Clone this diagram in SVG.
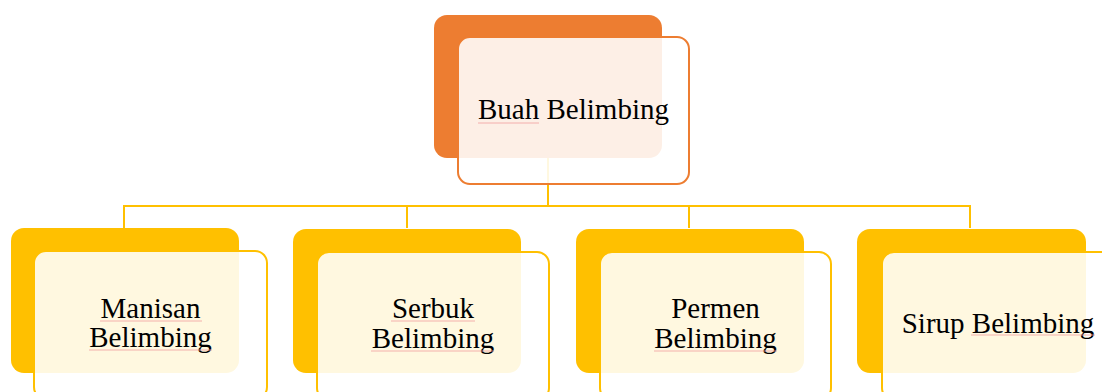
<svg xmlns="http://www.w3.org/2000/svg" width="1102" height="392" viewBox="0 0 1102 392">
<style>
.bg-o{fill:#ED7D31}
.bg-y{fill:#FFC000}
.fr-o{fill:#FFFFFF;fill-opacity:0.88;stroke:#ED7D31;stroke-width:2}
.fr-y{fill:#FFFFFF;fill-opacity:0.88;stroke:#FFC000;stroke-width:2}
.conn{fill:none;stroke:#FFC000;stroke-width:2}
.lbl{font-family:"Liberation Serif","Times New Roman",serif;font-size:29px;fill:#000;text-anchor:middle}
.sp{stroke:#F2A0A0;stroke-width:1;opacity:0.8}
</style>
<g id="connectors">
<path class="conn" d="M548 158 V206"/>
<path class="conn" d="M124 228 V206 H970 V228"/>
<path class="conn" d="M407 206 V228"/>
<path class="conn" d="M689 206 V228"/>
</g>
<g id="node-buah">
<rect class="bg-o" x="434" y="15" width="228" height="143" rx="13"/>
<rect class="fr-o" x="458" y="37" width="231" height="147" rx="12"/>
<text class="lbl" x="573.5" y="119">Buah Belimbing</text>
<line class="sp" x1="478" y1="123" x2="539" y2="123"/>
</g>
<g id="node-manisan">
<rect class="bg-y" x="11" y="228" width="228" height="145" rx="13"/>
<rect class="fr-y" x="34" y="251" width="233" height="148" rx="12"/>
<text class="lbl" x="150.5" y="318">Manisan</text>
<text class="lbl" x="150.5" y="347">Belimbing</text>
<line class="sp" x1="100" y1="321" x2="202" y2="321"/>
<line class="sp" x1="89" y1="350" x2="212" y2="350"/>
</g>
<g id="node-serbuk">
<rect class="bg-y" x="293" y="229" width="228" height="144" rx="13"/>
<rect class="fr-y" x="317" y="252" width="232" height="148" rx="12"/>
<text class="lbl" x="433" y="318">Serbuk</text>
<text class="lbl" x="433" y="348">Belimbing</text>
<line class="sp" x1="391" y1="321" x2="475" y2="321"/>
<line class="sp" x1="371" y1="351" x2="494" y2="351"/>
</g>
<g id="node-permen">
<rect class="bg-y" x="576" y="229" width="228" height="144" rx="13"/>
<rect class="fr-y" x="600" y="252" width="231" height="148" rx="12"/>
<text class="lbl" x="715.5" y="318">Permen</text>
<text class="lbl" x="715.5" y="348">Belimbing</text>
<line class="sp" x1="654" y1="351" x2="777" y2="351"/>
</g>
<g id="node-sirup">
<rect class="bg-y" x="857" y="229" width="229" height="144" rx="13"/>
<rect class="fr-y" x="882" y="252" width="231" height="148" rx="12"/>
<text class="lbl" x="998" y="333">Sirup Belimbing</text>
<line class="sp" x1="971" y1="335" x2="1095" y2="335"/>
</g>
</svg>
